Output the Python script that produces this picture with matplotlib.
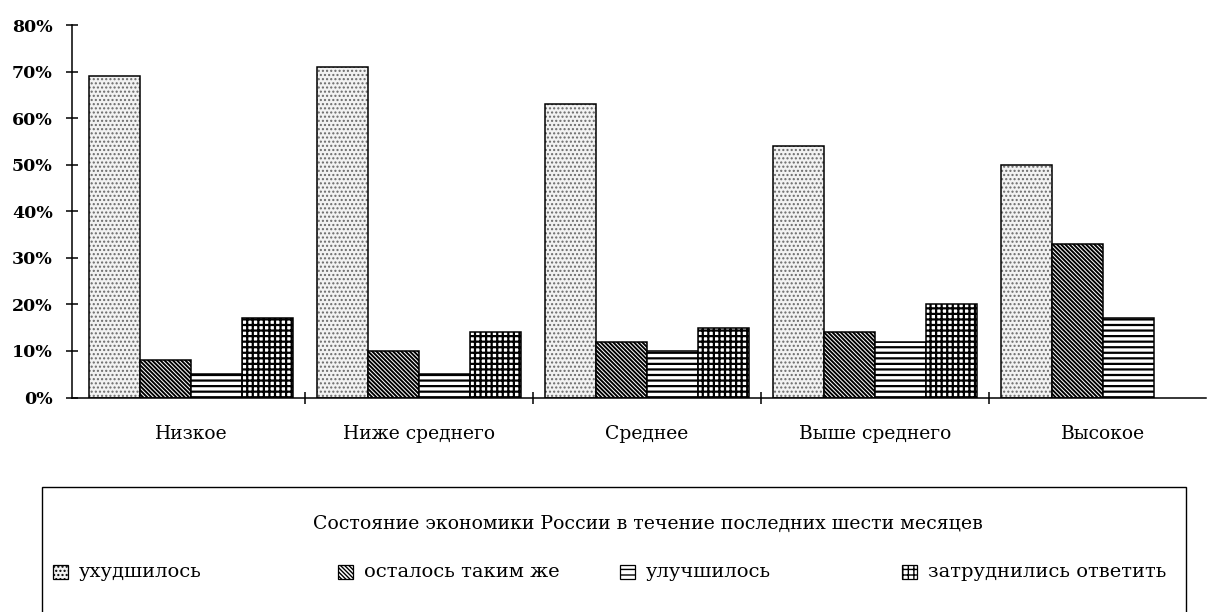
import numpy as np
import matplotlib
matplotlib.use("Agg")
from matplotlib import pyplot as plt
from matplotlib import ticker as ticker
from matplotlib.patches import Rectangle

# Data (percent)
categories = ["Низкое", "Ниже среднего", "Среднее", "Выше среднего", "Высокое"]
series_names = ["ухудшилось", "осталось таким же", "улучшилось", "затруднились ответить"]
worse  = [69, 71, 63, 54, 50]
same   = [8, 10, 12, 14, 33]
better = [5, 5, 10, 12, 17]
hard   = [17, 14, 15, 20, np.nan]
legend_title = "Состояние экономики России в течение последних шести месяцев"

series = [worse, same, better, hard]
hatches = ["....", "\\" * 8, "---", "+++"]
faces = ["#f2f2f2", "white", "white", "white"]
hatch_cols = ["#6a6a6a", "black", "black", "black"]
hatch_lws = [1.0, 1.4, 1.6, 1.6]

plt.rcParams["font.family"] = ["DejaVu Serif"]

W, H = 1208, 612
fig = plt.figure(figsize=(W / 100, H / 100), dpi=100)
ax = fig.add_axes([72 / W, 1 - 397.5 / H, (1206 - 72) / W, (397.5 - 25) / H])


def set_hlw(patches, lw):
    for p in patches:
        if hasattr(p, "set_hatch_linewidth"):
            p.set_hatch_linewidth(lw)


x = np.arange(len(categories))
w = 0.2237
for k, vals in enumerate(series):
    plt.rcParams["hatch.linewidth"] = hatch_lws[k]
    fill = ax.bar(x + (k - 1.5) * w, vals, width=w, facecolor=faces[k],
                  edgecolor=hatch_cols[k], linewidth=0, hatch=hatches[k])
    set_hlw(fill, hatch_lws[k])
    ax.bar(x + (k - 1.5) * w, vals, width=w, fill=False, edgecolor="black",
           linewidth=1.1, label=series_names[k])

ax.set_xlim(-0.522, 4.452)
ax.set_ylim(0, 80)
ax.spines["top"].set_visible(False)
ax.spines["right"].set_visible(False)
ax.spines["left"].set_linewidth(1.1)
ax.spines["bottom"].set_linewidth(1.1)

ax.yaxis.set_major_locator(ticker.MultipleLocator(10))
ax.yaxis.set_major_formatter(ticker.FuncFormatter(lambda v, p: f"{v:.0f}%"))
ax.tick_params(axis="y", direction="inout", length=8, width=1.1, pad=10, labelsize=12.5)
for lab in ax.get_yticklabels():
    lab.set_fontweight("bold")

# category labels at centers, tick marks at group boundaries
ax.set_xticks(x)
ax.set_xticks(x[:-1] + 0.5, minor=True)
ax.set_xticklabels(categories, fontsize=13.5)
ax.tick_params(axis="x", which="major", length=0, pad=20)
ax.tick_params(axis="x", which="minor", direction="inout", length=9, width=1.1)

# legend box below the chart
box = Rectangle((42 / W, -0.05), (1186 - 42) / W, 0.05 + (H - 487) / H,
                transform=fig.transFigure, facecolor="white", edgecolor="black",
                linewidth=1.0, clip_on=False)
fig.add_artist(box)
fig.text(648 / W, 1 - 524 / H, legend_title, ha="center", va="center", fontsize=13.6)

entry_x = [53, 338, 620, 902]
ey = 572
for k, name in enumerate(series_names):
    px = entry_x[k]
    plt.rcParams["hatch.linewidth"] = min(hatch_lws[k], 1.0)
    sw = Rectangle((px / W, 1 - (ey + 7) / H), 15 / W, 14 / H,
                   transform=fig.transFigure, facecolor=faces[k],
                   edgecolor="black", linewidth=0.9, hatch=hatches[k])
    set_hlw([sw], min(hatch_lws[k], 1.0))
    fig.add_artist(sw)
    fig.text((px + 26) / W, 1 - ey / H, name, ha="left", va="center", fontsize=14)

fig.savefig("out.png", dpi=100)
